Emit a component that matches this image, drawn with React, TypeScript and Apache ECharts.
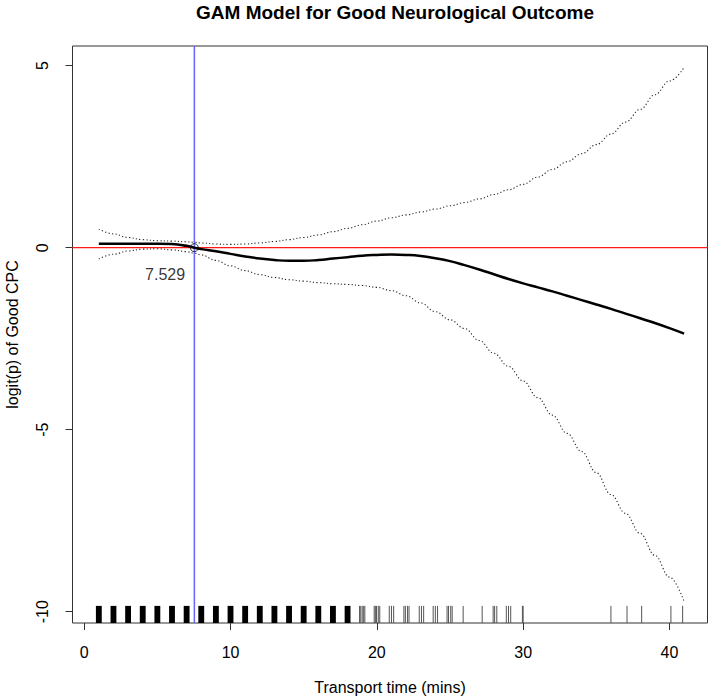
import React, { useEffect, useRef } from "react";
import * as echarts from "echarts";

// ---- data ----
const xs = [1, 2, 3, 4, 5, 6, 7, 7.529, 8, 9, 10, 11, 12, 13, 14, 15, 16, 17, 18, 19, 20, 21, 22, 23, 24, 25, 26, 27, 28, 29, 30, 31, 32, 33, 34, 35, 36, 37, 38, 39, 40, 41];
const fit = [0.11, 0.11, 0.11, 0.11, 0.11, 0.1, 0.05, 0.0, -0.04, -0.1, -0.17, -0.24, -0.3, -0.34, -0.36, -0.36, -0.34, -0.3, -0.26, -0.22, -0.2, -0.19, -0.2, -0.23, -0.29, -0.37, -0.48, -0.6, -0.73, -0.86, -0.98, -1.09, -1.2, -1.32, -1.44, -1.56, -1.68, -1.81, -1.94, -2.07, -2.21, -2.36];
const upper = [0.51, 0.38, 0.28, 0.22, 0.19, 0.18, 0.16, 0.15, 0.13, 0.1, 0.09, 0.1, 0.13, 0.17, 0.22, 0.28, 0.35, 0.44, 0.53, 0.63, 0.73, 0.82, 0.9, 0.98, 1.06, 1.15, 1.24, 1.34, 1.46, 1.59, 1.74, 1.94, 2.15, 2.36, 2.58, 2.83, 3.12, 3.45, 3.8, 4.2, 4.58, 4.95];
const lower = [-0.31, -0.18, -0.09, -0.04, -0.03, -0.06, -0.11, -0.15, -0.2, -0.35, -0.5, -0.63, -0.74, -0.82, -0.88, -0.92, -0.96, -0.99, -1.01, -1.04, -1.09, -1.18, -1.32, -1.52, -1.76, -1.98, -2.22, -2.55, -2.9, -3.26, -3.66, -4.12, -4.6, -5.1, -5.6, -6.18, -6.78, -7.3, -7.85, -8.45, -9.05, -9.72];
const cutoff = 7.529;
const cutoffLabel = "7.529";
const rugBlocks = [1, 2, 3, 4, 5, 6, 7, 8, 9, 10, 11, 12, 13, 14, 15, 16, 17, 18];
const rugLines = [18.82, 18.9, 19.0, 19.1, 19.18, 19.82, 19.9, 19.98, 20.1, 20.2, 20.85, 21.0, 21.15, 21.85, 21.95, 22.1, 22.2, 22.9, 23.05, 23.2, 23.85, 24.0, 24.15, 24.8, 24.9, 25.05, 25.15, 25.9, 27.2, 27.95, 28.05, 28.2, 28.85, 29.0, 29.15, 29.95, 30.0, 36.0, 37.1, 38.1, 40.1, 40.9];
const xTicks = [0, 10, 20, 30, 40];
const yTicks = [-10, -5, 0, 5];

const FONT = "'Liberation Sans', Arial, Helvetica, sans-serif";
const X_MIN = -0.8, X_MAX = 42.6, Y_MIN = -10.31, Y_MAX = 5.54;
const RUG_TOP = -9.84;

export default function App() {
  const ref = useRef<HTMLDivElement>(null);
  useEffect(() => {
    document.body.style.margin = "0";
    const chart = echarts.init(ref.current!, null, { renderer: "svg" });
    const pts = (ys: number[]) => xs.map((x, i) => [x, ys[i]]);
    const rugData = [
      ...rugBlocks.map((x) => [x, 1]),
      ...rugLines.map((x) => [x, 0]),
    ];
    const dotted = { color: "#222", width: 1.1, type: [1.2, 2.3] };
    chart.setOption({
      animation: false,
      backgroundColor: "#fff",
      textStyle: { fontFamily: FONT },
      title: {
        text: "GAM Model for Good Neurological Outcome",
        left: 390,
        textAlign: "center",
        top: -2,
        textStyle: { fontFamily: FONT, fontSize: 19, fontWeight: "bold", color: "#000" },
      },
      grid: {
        left: 72.5, right: 1.5, top: 46, bottom: 77,
        containLabel: false, outerBoundsMode: "none",
        show: true, borderColor: "#333", borderWidth: 1, backgroundColor: "transparent",
      },
      xAxis: {
        type: "value", min: X_MIN, max: X_MAX,
        name: "Transport time (mins)", nameLocation: "middle", nameGap: 56,
        nameTextStyle: { fontFamily: FONT, fontSize: 16, color: "#000" },
        axisLine: { show: false, onZero: false },
        splitLine: { show: false },
        axisTick: { show: true, inside: false, length: 7, customValues: xTicks, lineStyle: { color: "#333" } },
        axisLabel: { customValues: xTicks, margin: 21, fontFamily: FONT, fontSize: 16, color: "#000" },
      },
      yAxis: {
        type: "value", min: Y_MIN, max: Y_MAX,
        name: "logit(p) of Good CPC", nameLocation: "middle", nameGap: 52,
        nameTextStyle: { fontFamily: FONT, fontSize: 16, color: "#000" },
        axisLine: { show: false, onZero: false },
        splitLine: { show: false },
        axisTick: { show: true, inside: false, length: 7, customValues: yTicks, lineStyle: { color: "#333" } },
        axisLabel: { customValues: yTicks, rotate: 90, margin: 22, fontFamily: FONT, fontSize: 16, color: "#000" },
      },
      series: [
        {
          type: "custom",
          name: "rug",
          silent: true,
          clip: true,
          data: rugData,
          renderItem: (params: any, api: any) => {
            const x = api.value(0);
            const block = api.value(1) === 1;
            if (block) {
              const a = api.coord([x - 0.2, RUG_TOP]);
              const b = api.coord([x + 0.2, Y_MIN]);
              return { type: "rect", shape: { x: a[0], y: a[1], width: b[0] - a[0], height: b[1] - a[1] }, style: { fill: "#000" } };
            }
            const a = api.coord([x, RUG_TOP]);
            const b = api.coord([x, Y_MIN]);
            return { type: "line", shape: { x1: a[0], y1: a[1], x2: b[0], y2: b[1] }, style: { stroke: "#555", lineWidth: 1 } };
          },
        },
        {
          type: "line", name: "zeroLine", silent: true, showSymbol: false,
          data: [[X_MIN, 0], [X_MAX, 0]],
          lineStyle: { color: "#ff1a1a", width: 1.3 },
          z: 1,
        },
        {
          type: "line", name: "cutoffLine", silent: true, showSymbol: false,
          data: [[cutoff, Y_MIN], [cutoff, Y_MAX]],
          lineStyle: { color: "#6666ff", width: 1.5 },
          z: 1,
        },
        {
          type: "line", name: "upper", data: pts(upper), smooth: 0.4, smoothMonotone: "x", showSymbol: false, silent: true,
          lineStyle: dotted,
        },
        {
          type: "line", name: "lower", data: pts(lower), smooth: 0.4, smoothMonotone: "x", showSymbol: false, silent: true,
          lineStyle: dotted,
        },
        {
          type: "line", name: "fit", data: pts(fit), smooth: 0.5, showSymbol: false, silent: true,
          lineStyle: { color: "#000", width: 2.5 },
        },
        {
          type: "scatter", name: "cutoff", silent: true,
          data: [[cutoff, 0]],
          symbol: "circle", symbolSize: 8,
          itemStyle: { color: "rgba(255,255,255,0)", borderColor: "#000", borderWidth: 1 },
          z: 5,
        },
        {
          type: "scatter", name: "cutoffLabel", silent: true,
          data: [[cutoff - 2.0, -0.75]],
          symbolSize: 0,
          label: { show: true, position: "inside", formatter: cutoffLabel, fontFamily: FONT, fontSize: 16, color: "#000" },
        },
      ],
    });
    return () => chart.dispose();
  }, []);
  return <div ref={ref} style={{ width: 709, height: 700 }} />;
}
